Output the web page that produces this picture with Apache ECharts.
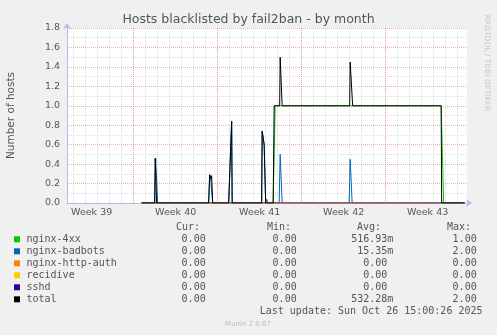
<!DOCTYPE html>
<html><head><meta charset="utf-8">
<script src="https://cdn.jsdelivr.net/npm/echarts@6/dist/echarts.min.js"></script>
<style>html,body{margin:0;padding:0;background:#f0f0f0;}#c{width:497px;height:335px;}</style>
</head><body><div id="c"></div>
<script>
// ---- data (x = hours since Mon 2025-09-22 00:00, y = number of hosts) ----
const seriesNames = ['nginx-4xx', 'nginx-badbots', 'nginx-http-auth', 'recidive', 'sshd', 'total'];
const seriesColors = ['#00CC00', '#0066B3', '#FF8000', '#FFCC00', '#330099', '#000000'];
const weekLabels = ['Week 39', 'Week 40', 'Week 41', 'Week 42', 'Week 43'];

const nginx4xx = [[184,0],[447,0],[451,1.0],[783,1.0],[788,0],[830,0]];
const nginxBadbots = [[184,0],[210,0],[212,0.46],[216,0],[318,0],[320,0.29],[322,0.25],[324,0.27],[326,0],
  [358,0],[364,0.84],[365,0],[424,0],[425,0.74],[429,0.6],[431,0.62],[432,0],[434,0.04],[436,0],
  [459,0],[461,0.5],[465,0],[599,0],[601,0.45],[605,0],[830,0]];
const nginxHttpAuth = [[184,0],[830,0]];
const recidive = [[184,0],[830,0]];
const sshd = [[184,0],[830,0]];
const total = [[184,0],[210,0],[211,0.46],[214,0],[318,0],[320,0.29],[322,0.25],[324,0.28],[326,0],
  [358,0],[364,0.84],[365,0],[424,0],[425,0.74],[429,0.6],[431,0.62],[432,0],[447,0],[449,1.0],
  [460,1.0],[461,1.5],[465,1.0],[600,1.0],[601,1.45],[606,1.0],[783,1.0],[784,0],[830,0]];

const curValues = ['0.00', '0.00', '0.00', '0.00', '0.00', '0.00'];
const minValues = ['0.00', '0.00', '0.00', '0.00', '0.00', '0.00'];
const avgValues = ['516.93m', '15.35m', '0.00', '0.00', '0.00', '532.28m'];
const maxValues = ['1.00', '2.00', '0.00', '0.00', '0.00', '2.00'];
const lastUpdate = 'Last update: Sun Oct 26 15:00:26 2025';

// ---- layout ----
const xMin = 34 + 2/3, xMax = xMin + 800;
const MAJOR = 'rgba(228,90,90,0.5)';
const MINOR = 'rgba(150,150,150,0.32)';
const AXIS = '#b8b8e8';
const TXT = '#555';
const seriesData = [nginx4xx, nginxBadbots, nginxHttpAuth, recidive, sshd, total];

const chart = echarts.init(document.getElementById('c'), null, {renderer: 'canvas'});

const graphics = [
  {type:'text', x:248.5, y:19.5, style:{text:'Hosts blacklisted by fail2ban - by month', font:'12.5px "DejaVu Sans"', fill:TXT, align:'center', verticalAlign:'middle'}},
  {type:'text', x:11, y:115.5, rotation:Math.PI/2, style:{text:'Number of hosts', font:'10.5px "DejaVu Sans"', fill:TXT, align:'center', verticalAlign:'middle'}},
  {type:'text', x:487, y:63, rotation:-Math.PI/2, style:{text:'RRDTOOL / TOBI OETIKER', font:'7.5px "DejaVu Sans"', fill:'#c8c8c8', align:'center', verticalAlign:'middle'}},
  {type:'text', x:248, y:324, style:{text:'Munin 2.0.67', font:'7px "DejaVu Sans"', fill:'#bdbdbd', align:'center', verticalAlign:'middle'}},
  {type:'text', x:482.5, y:311, style:{text:lastUpdate, font:'10px "DejaVu Sans Mono"', fill:TXT, align:'right', verticalAlign:'middle'}}
];
const MONO = '10px "DejaVu Sans Mono"';
[['Cur:',176],['Min:',267],['Avg:',357],['Max:',447]].forEach(([t,x]) => {
  graphics.push({type:'text', x:x, y:227.3, style:{text:t, font:MONO, fill:TXT, align:'left', verticalAlign:'middle'}});
});
const pad = s => s.endsWith('m') ? s : s + ' ';
seriesNames.forEach((name, i) => {
  const y = 239.3 + 12 * i;
  graphics.push({type:'rect', shape:{x:14, y:y-3, width:6, height:6}, style:{fill:seriesColors[i]}});
  graphics.push({type:'text', x:26.5, y:y, style:{text:name, font:MONO, fill:TXT, align:'left', verticalAlign:'middle'}});
  [[curValues,211.7],[minValues,302.7],[avgValues,393.3],[maxValues,482.7]].forEach(([arr,xr]) => {
    graphics.push({type:'text', x:xr, y:y, style:{text:pad(arr[i]), font:MONO, fill:TXT, align:'right', verticalAlign:'middle'}});
  });
});

chart.setOption({
  animation: false,
  backgroundColor: '#f0f0f0',
  grid: {left:67, top:28, width:400, height:175, show:true, backgroundColor:'#ffffff', borderWidth:0},
  xAxis: [
    {type:'value', gridIndex:0, position:'bottom', min:xMin, max:xMax, minInterval:24, maxInterval:24,
     axisLine:{show:false, onZero:false}, axisTick:{show:false}, axisLabel:{show:false},
     splitLine:{show:true, showMinLine:false, showMaxLine:false, lineStyle:{color:MINOR, type:[1,1], width:1}}},
    {type:'value', gridIndex:0, position:'bottom', min:xMin, max:xMax, minInterval:168, maxInterval:168,
     axisLine:{show:false, onZero:false}, axisTick:{show:false}, axisLabel:{show:false},
     splitLine:{show:true, showMinLine:false, showMaxLine:false, lineStyle:{color:MAJOR, type:[1,1], width:1}}},
    {type:'value', gridIndex:0, position:'bottom', min:xMin-84, max:xMax-84, minInterval:168, maxInterval:168,
     axisLine:{show:false, onZero:false}, axisTick:{show:false}, splitLine:{show:false},
     axisLabel:{show:true, showMinLabel:false, showMaxLabel:false, margin:5, color:TXT, fontSize:9.5, fontFamily:'DejaVu Sans',
       formatter: v => { const k = v / 168; return Number.isInteger(k) && weekLabels[k] ? weekLabels[k] : ''; }}},
    {type:'value', gridIndex:0, position:'bottom', min:xMin, max:xMax,
     axisLine:{show:true, onZero:false, lineStyle:{color:AXIS, width:1}, symbol:['none','arrow'], symbolSize:[6,6], symbolOffset:[0,5]},
     axisTick:{show:false}, axisLabel:{show:false}, splitLine:{show:false}}
  ],
  yAxis: [
    {type:'value', position:'left', min:0, max:1.8, interval:0.2,
     axisLine:{show:true, onZero:false, lineStyle:{color:AXIS, width:1}, symbol:['none','arrow'], symbolSize:[6,6], symbolOffset:[0,5]},
     axisTick:{show:false},
     axisLabel:{color:TXT, fontSize:9.5, fontFamily:'DejaVu Sans', margin:7, formatter: v => v.toFixed(1)},
     splitLine:{show:true, lineStyle:{color:MAJOR, type:[1,1], width:1}},
     minorTick:{show:false, splitNumber:2},
     minorSplitLine:{show:true, lineStyle:{color:MINOR, type:[1,1], width:1}}}
  ],
  series: seriesNames.map((name, i) => ({
    name: name, type:'line', xAxisIndex:0, yAxisIndex:0, data: seriesData[i],
    showSymbol:false, symbol:'none', lineStyle:{color:seriesColors[i], width:1}, itemStyle:{color:seriesColors[i]},
    z: 2
  })),
  graphic: graphics
});
</script></body></html>
